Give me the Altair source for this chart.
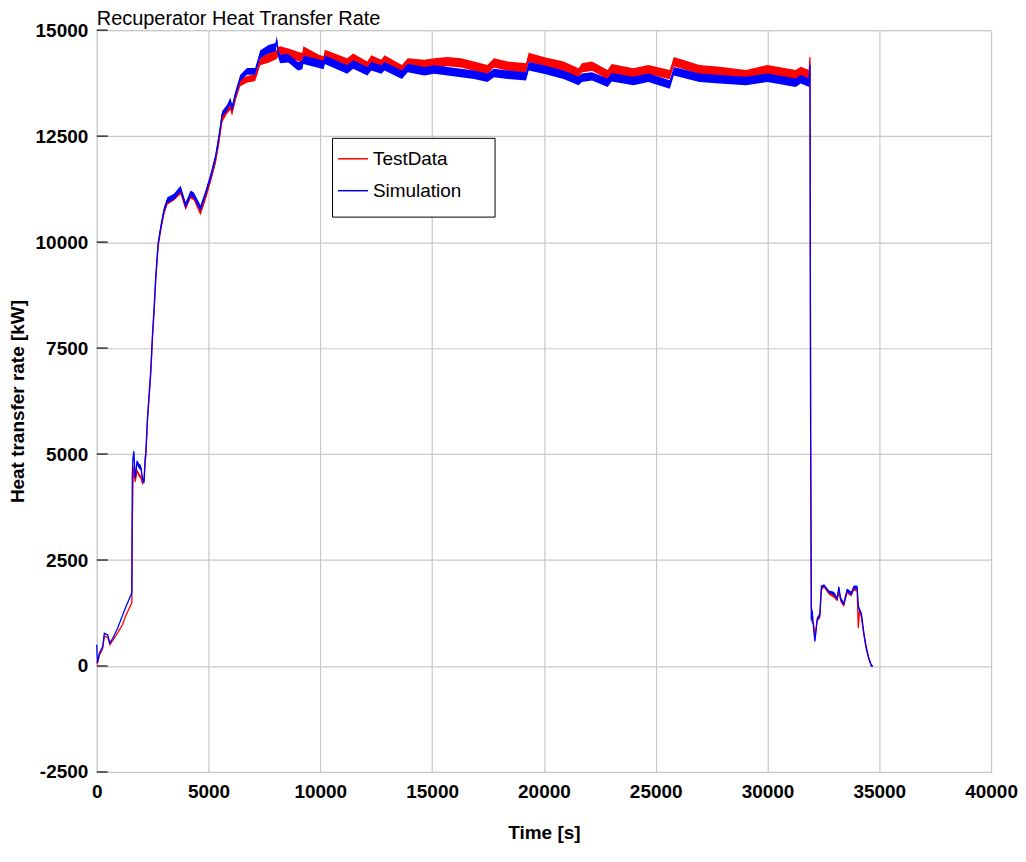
import altair as alt
import pandas as pd

# ---- data ----
time_s = [0, 30, 118, 267, 340, 490, 590, 710, 935, 1157, 1305, 1557, 1570, 1590, 1620, 1660, 1720,
          1800, 1900, 1975, 2050, 2120, 2165, 2195, 2270, 2420, 2490, 2570, 2640, 2745, 2865, 3010,
          3160, 3455, 3750, 3975, 4200, 4345, 4640, 4865, 5085, 5310, 5460, 5610, 5830, 5980, 6050,
          6200, 6420, 6720, 7090, 7310, 7680, 8000, 8050, 8120, 8200, 8570, 9000, 9200, 9240, 9980,
          10150, 10200, 11200, 11470, 12100, 12280, 12730, 12870, 13650, 13910, 14650, 15100, 15690,
          16290, 16880, 17470, 17770, 18370, 19200, 19320, 19990, 20880, 21550, 21700, 22150, 22850,
          23030, 24000, 24670, 25630, 25810, 26960, 27850, 29040, 30000, 31260, 31490, 31860, 31900,
          31930, 31960, 32000, 32060, 32120, 32230, 32340, 32410, 32530, 32750, 32970, 33120, 33190,
          33270, 33410, 33560, 33750, 33860, 34010, 34060, 34120, 34200, 34310, 34410, 34530, 34650,
          34700]

sim_kw = [500, 80, 300, 460, 770, 730, 540, 650, 890, 1200, 1400, 1710, 1750, 4500, 4900, 5060, 4440,
          4800, 4710, 4680, 4400, 4360, 4910, 5020, 5850, 7020, 7790, 8490, 9200, 9970, 10360, 10760,
          10990, 11070, 11260, 10870, 11150, 11100, 10800, 11150, 11530, 12000, 12470, 13020, 13170, 13330, 13150,
          13480, 13870, 14030, 14030, 14430, 14550, 14600, 14770, 14450, 14320, 14340, 14150, 14180, 14300, 14200,
          14180, 14300, 14070, 14190, 14030, 14150, 14070, 14150, 13950, 14110, 14030, 14070, 14030,
          13990, 13950, 13880, 13990, 13950, 13910, 14150, 14070, 13950, 13800, 13880, 13910, 13760,
          13890, 13800, 13880, 13720, 14030, 13880, 13840, 13800, 13880, 13760, 13840, 13760, 14190,
          5400, 1080, 1300, 900, 580, 1120, 1200, 1880, 1900, 1750, 1710, 1590, 1860,
          1590, 1470, 1790, 1710, 1860, 1860, 1430, 1300, 1240, 770, 460, 190, 0,
          0]

test_kw = [100, 60, 250, 420, 700, 680, 500, 600, 780, 980, 1200, 1475, 1500, 3300, 4300, 4700, 4350,
           4600, 4500, 4450, 4300, 4450, 4800, 4950, 5800, 6900, 7700, 8400, 9100, 9900, 10300, 10700,
           10950, 11050, 11200, 10820, 11100, 11050, 10700, 11050, 11450, 11900, 12350, 12900, 13100, 13200, 13050,
           13400, 13760, 13840, 13880, 14260, 14340, 14420, 14430, 14500, 14510, 14460, 14380, 14350, 14510, 14300,
           14280, 14430, 14230, 14340, 14150, 14300, 14190, 14300, 14070, 14230, 14190, 14230, 14260,
           14230, 14150, 14070, 14230, 14150, 14110, 14360, 14260, 14150, 13990, 14110, 14150, 13950,
           14090, 13990, 14070, 13950, 14260, 14070, 14030, 13950, 14070, 13950, 14030, 13950, 14360,
           5300, 1430, 1050, 1000, 700, 1100, 1150, 1800, 1880, 1710, 1650, 1560, 1800,
           1550, 1430, 1750, 1680, 1820, 1800, 900, 1350, 1150, 750, 420, 170, 0,
           0]

# half-width of the noise band around each curve (kW)
sim_spread = [0] * 12 + [0, 0, 60, 60, 60, 60, 60, 60, 60, 60, 40, 40, 20, 20, 20, 20, 20, 40, 60, 70,
              70, 70, 70, 70, 70, 70, 70, 70, 70, 70, 70, 70, 70, 80, 80, 80, 80,
              80, 80, 90, 100, 100, 100, 100, 100, 100, 100, 100, 100, 100, 100, 100,
              100, 100, 100, 100, 100, 100, 100, 100, 100, 100, 100, 100, 100, 100,
              100, 100, 100, 100, 100, 100, 100, 100, 100, 100, 100, 100, 100,
              100, 100, 100, 100, 100, 100, 100, 100, 100, 100, 100, 100, 60,
              0, 0, 40, 40, 20, 30, 30, 40, 40, 40, 40, 40, 40,
              40, 40, 40, 40, 40, 30, 20, 20, 20, 20, 20, 10, 0,
              0]
test_spread = [0] * 12 + [0, 0, 40, 40, 40, 40, 40, 40, 40, 40, 30, 30, 20, 20, 20, 20, 20, 40, 60, 70,
               70, 70, 70, 70, 70, 70, 70, 70, 70, 70, 70, 70, 70, 80, 80, 80, 80,
               80, 80, 90, 110, 110, 110, 110, 110, 110, 110, 110, 110, 110, 110, 110,
               110, 110, 110, 110, 110, 110, 110, 110, 110, 110, 110, 110, 110, 110,
               110, 110, 110, 110, 110, 110, 110, 110, 110, 110, 110, 110, 110,
               110, 110, 110, 110, 110, 110, 110, 110, 110, 110, 110, 110, 60,
               0, 0, 40, 40, 20, 30, 30, 40, 40, 40, 40, 40, 40,
               40, 40, 40, 40, 40, 30, 20, 20, 20, 20, 20, 10, 0,
               0]

series_names = ["TestData", "Simulation"]
series_colors = ["#ff0000", "#0000ff"]
x_ticks = [0, 5000, 10000, 15000, 20000, 25000, 30000, 35000, 40000]
y_ticks = [-2500, 0, 2500, 5000, 7500, 10000, 12500, 15000]

rows = []
for name, vals, spr in [("TestData", test_kw, test_spread), ("Simulation", sim_kw, sim_spread)]:
    for t, v, s in zip(time_s, vals, spr):
        rows.append({"time": t, "value": v, "lo": v - s, "hi": v + s, "series": name})
df = pd.DataFrame(rows)
ticks_df = pd.DataFrame({"value": y_ticks})

FONT = "Liberation Sans"

x_scale = alt.Scale(domain=[0, 40000], nice=False)
y_scale = alt.Scale(domain=[-2500, 15000], nice=False)

x_axis = alt.Axis(values=x_ticks, format="d", title="Time [s]", grid=True, ticks=False, domain=False,
                  labelFont=FONT, labelFontSize=19, labelFontWeight="bold", labelColor="#000",
                  labelPadding=11, labelFlush=False,
                  titleFont=FONT, titleFontSize=19, titleFontWeight="bold", titleColor="#000",
                  titlePadding=22, gridColor="#c8c8c8", gridWidth=1.2)
y_axis = alt.Axis(values=y_ticks, format="d", title="Heat transfer rate [kW]", grid=True, ticks=False,
                  domain=False, labelFont=FONT, labelFontSize=19, labelFontWeight="bold",
                  labelExpr="replace(datum.label, '\u2212', '-')",
                  labelColor="#000", labelPadding=9,
                  titleFont=FONT, titleFontSize=19, titleFontWeight="bold", titleColor="#000",
                  titlePadding=8, gridColor="#c8c8c8", gridWidth=1.2)

x_enc = alt.X("time:Q", scale=x_scale, axis=x_axis)

color_scale = alt.Scale(domain=series_names, range=series_colors)
legend = alt.Legend(orient="none", legendX=236, legendY=108, title=" ", titleOrient="bottom",
                    titleFontSize=11, titlePadding=0,
                    symbolType="stroke", symbolSize=900, symbolStrokeWidth=1.5,
                    labelFont=FONT, labelFontSize=19, labelColor="#000", labelOffset=4,
                    labelExpr="datum.label + '\u2800\u2800'",
                    rowPadding=6, padding=5, strokeColor="#000", fillColor="#fff")


def band(name):
    return alt.Chart(df).transform_filter(alt.datum.series == name).mark_area(opacity=1).encode(
        x=x_enc, y=alt.Y("lo:Q", scale=y_scale, axis=y_axis), y2="hi:Q",
        color=alt.Color("series:N", scale=color_scale, legend=legend))


def line(name):
    return alt.Chart(df).transform_filter(alt.datum.series == name).mark_line(strokeWidth=1.3).encode(
        x=x_enc, y=alt.Y("value:Q", scale=y_scale, axis=y_axis),
        color=alt.Color("series:N", scale=color_scale, legend=legend))


tick_marks = alt.Chart(ticks_df).mark_rule(color="#333", strokeWidth=1.5).encode(
    y=alt.Y("value:Q", scale=y_scale, axis=y_axis), x=alt.value(0), x2=alt.value(11))

chart = alt.layer(
    band("TestData"), line("TestData"), band("Simulation"), line("Simulation"), tick_marks
).properties(
    width=897, height=744,
    padding={"left": 0, "top": 0, "right": 0, "bottom": 0},
    title=alt.TitleParams("Recuperator Heat Transfer Rate", anchor="start", frame="group", font=FONT,
                          fontSize=20, fontWeight="normal", color="#000", offset=-8),
).configure_view(stroke="#222", strokeWidth=2).configure(background="#ffffff")

chart.save("out.html", embed_options={"renderer": "svg", "actions": False})
